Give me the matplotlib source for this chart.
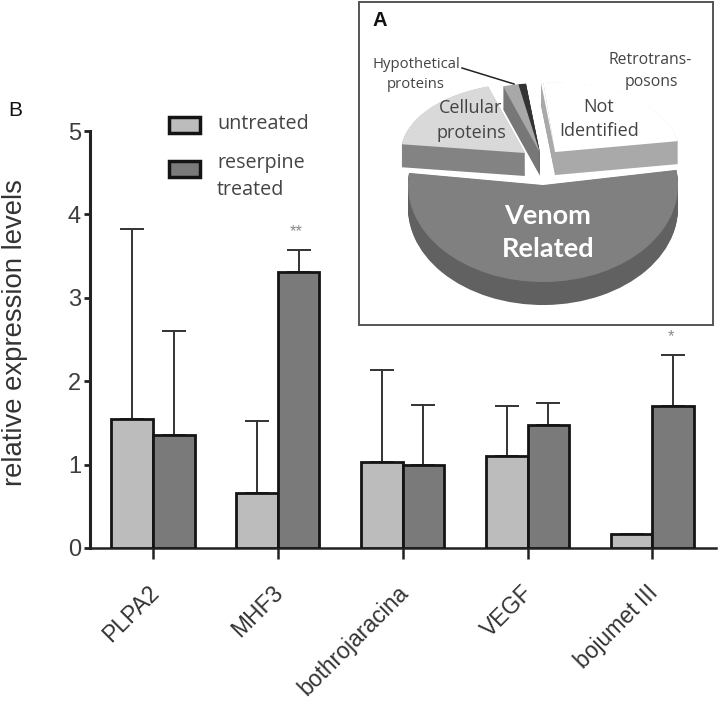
"""Экспрессия генов (B) и состав транскриптома (A)"""
import numpy as np
import matplotlib
matplotlib.use("Agg")
import matplotlib.pyplot as plt
from matplotlib.transforms import Affine2D, ScaledTranslation

W, H = 720, 705

genes = ["PLPA2", "MHF3", "bothrojaracina", "VEGF", "bojumet III"]
untreated = [1.55, 0.66, 1.03, 1.10, 0.17]
treated = [1.36, 3.31, 1.00, 1.47, 1.70]
untreated_top = [3.82, 1.52, 2.14, 1.70, np.nan]
treated_top = [2.60, 3.57, 1.72, 1.74, 2.31]
stars = ["", "**", "", "", "*"]

slice_names = ["Not Identified", "Retrotransposons", "other", "Hypothetical proteins",
               "Cellular proteins", "Venom Related"]
slice_sizes = [24.0, 0.3, 1.0, 2.0, 18.2, 54.5]


def fx(x):
    return x / W


def fy(y):
    return 1.0 - y / H


fig = plt.figure(figsize=(W / 100, H / 100), dpi=100)

# график B
ax = fig.add_axes([fx(90), fy(548), fx(716) - fx(90), fy(131) - fy(548)])
pos = np.arange(len(genes))
bar_w = 0.333
ax.bar(pos - bar_w / 2, untreated, bar_w, color="#bcbcbc", edgecolor="#141414", linewidth=2,
       label="untreated", zorder=3)
ax.bar(pos + bar_w / 2, treated, bar_w, color="#7a7a7a", edgecolor="#141414", linewidth=2,
       label="reserpine\ntreated", zorder=3)
for shift, vals, tops in [(-bar_w / 2, untreated, untreated_top), (bar_w / 2, treated, treated_top)]:
    vals = np.array(vals)
    up = np.array(tops) - vals
    ax.errorbar(pos + shift, vals, yerr=[np.zeros(len(vals)), up], fmt="none", ecolor="#333333",
                elinewidth=1.4, capsize=8.5, capthick=1.4, zorder=2)
for i, s in enumerate(stars):
    if s:
        ax.text(pos[i] + bar_w / 2 - 0.02, treated_top[i] + 0.22, s, ha="center", va="center",
                fontsize=12, color="#8a8a8a", family="Liberation Sans")

ax.set_xlim(-0.505, 4.51)
ax.set_ylim(0, 5)
ax.set_yticks(range(6))
ax.set_xticks(pos)
ax.set_xticklabels(genes, rotation=45, ha="right", rotation_mode="anchor",
                   family="Liberation Sans", fontsize=16.5, color="#333333")
ax.tick_params(axis="y", length=4.5, width=2, color="#222222", labelsize=17, labelcolor="#3c3c3c",
               pad=2)
ax.tick_params(axis="x", length=8, width=1.8, color="#222222", pad=16)
for t in ax.get_yticklabels():
    t.set_family("Liberation Sans")
for t in ax.get_xticklabels():
    t.set_transform(t.get_transform() + ScaledTranslation(-0.06, 0, fig.dpi_scale_trans))
ax.spines["top"].set_visible(False)
ax.spines["right"].set_visible(False)
ax.spines["left"].set_linewidth(2.2)
ax.spines["bottom"].set_linewidth(1.8)
ax.spines["left"].set_color("#222222")
ax.spines["bottom"].set_color("#222222")
ax.patch.set_alpha(0)
fig.text(fx(15), fy(333), "relative expression levels", rotation=90, ha="center", va="center",
         family="Liberation Sans", fontsize=19.8, color="#333333")
fig.text(fx(15), fy(110), "B", ha="center", va="center", family="Liberation Sans", fontsize=15,
         color="#111111")

leg = ax.legend(loc="upper left", bbox_to_anchor=(fx(151), fy(96)), bbox_transform=fig.transFigure,
                frameon=False, prop={"family": "Open Sans", "size": 14.2}, labelcolor="#444444",
                handlelength=1.6, handleheight=0.9, handletextpad=0.85, labelspacing=1.0)
for t in leg.get_texts():
    t.set_linespacing(1.45)
for h in leg.legend_handles:
    h.set_linewidth(2.5)
# квадратики легенды стоят выше центра подписи
leg.legend_handles[0].set_y(leg.legend_handles[0].get_y() - 2)
leg.legend_handles[1].set_y(leg.legend_handles[1].get_y() + 6)

# круговая диаграмма A
pie_ax = fig.add_axes([fx(359), fy(325), fx(713) - fx(359), fy(2) - fy(325)], zorder=2)
pie_ax.set_facecolor("white")

top_colors = ["#ffffff", "#ffffff", "#333333", "#a8a8a8", "#d9d9d9", "#808080"]
side_colors = ["#a9a9a9", "#a9a9a9", "#333333", "#777777", "#838383", "#616161"]
shift_x = [0.089, 0.089, -0.022, -0.022, -0.133, 0.0]
shift_y = [0.34, 0.34, 0.33, 0.33, 0.33, 0.0]
scale_x = [0.92, 0.92, 0.92, 0.92, 0.92, 1.0]
scale_y = [0.72, 0.72, 0.72, 0.72, 0.72, 1.0]


def draw_layer(colors, drop):
    wedges, _ = pie_ax.pie(slice_sizes, colors=colors, startangle=9, counterclock=True,
                           wedgeprops={"linewidth": 0})
    for i, w in enumerate(wedges):
        tr = Affine2D().scale(scale_x[i], scale_y[i]).translate(shift_x[i], shift_y[i] - drop)
        w.set_transform(tr + pie_ax.transData)


depth = 0.237
for drop in np.linspace(depth, 0.005, 24):
    draw_layer(side_colors, drop)
draw_layer(top_colors, 0.0)

pie_ax.set_aspect("auto")
pie_ax.set_frame_on(True)
pie_ax.set_xlim(-1.363, 1.259)
pie_ax.set_ylim(-1.443, 1.887)
for sp in pie_ax.spines.values():
    sp.set_color("#555555")
    sp.set_linewidth(1.4)

lab = {"family": "Open Sans", "color": "#444444", "ha": "center", "va": "center"}
fig.text(fx(416), fy(64), "Hypothetical", fontsize=10.7, **lab)
fig.text(fx(416), fy(85), "proteins", fontsize=10.7, **lab)
fig.text(fx(471), fy(108), "Cellular", fontsize=13, **lab)
fig.text(fx(471), fy(133), "proteins", fontsize=13, **lab)
fig.text(fx(599), fy(107), "Not", fontsize=13, **lab)
fig.text(fx(599), fy(131), "Identified", fontsize=13, **lab)
fig.text(fx(650), fy(60), "Retrotrans-", fontsize=11.3, **lab)
fig.text(fx(651), fy(82), "posons", fontsize=11.3, **lab)
fig.text(fx(548), fy(216), "Venom", fontsize=19.5, weight="bold", color="white", family="Lato",
         ha="center", va="center")
fig.text(fx(548), fy(249), "Related", fontsize=19.5, weight="bold", color="white", family="Lato",
         ha="center", va="center")
fig.text(fx(380), fy(21), "A", fontsize=14.5, weight="bold", color="#111111", family="Liberation Sans",
         ha="center", va="center")
fig.add_artist(plt.Line2D([fx(462), fx(514)], [fy(68), fy(84)], color="#222222", linewidth=1.1,
                          zorder=5))

fig.savefig("out.png", dpi=100)
